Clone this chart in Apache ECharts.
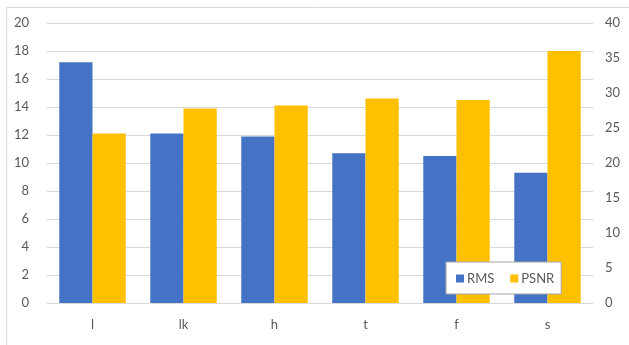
<!DOCTYPE html>
<html>
<head>
<meta charset="utf-8">
<script src="https://cdn.jsdelivr.net/npm/echarts@6/dist/echarts.min.js"></script>
<style>
  html, body { margin: 0; padding: 0; background: #fff; }
  #chart { width: 629px; height: 345px; }
</style>
</head>
<body>
<div id="chart"></div>
<script>
// Categories and the two measured series
const categories = ['l', 'lk', 'h', 't', 'f', 's'];
const rmsValues = [17.2, 12.1, 11.9, 10.7, 10.5, 9.3];
const psnrValues = [24.2, 27.8, 28.2, 29.2, 29.0, 36.0];
const seriesNames = ['RMS', 'PSNR'];

const textColor = '#595959';
const gridColor = '#d9d9d9';
const fontFamily = 'Lato, "Open Sans", sans-serif';

const chart = echarts.init(document.getElementById('chart'), null, { renderer: 'canvas' });

chart.setOption({
  animation: false,
  backgroundColor: '#ffffff',
  textStyle: { fontFamily: fontFamily },
  graphic: [{
    type: 'rect',
    shape: { x: 6.5, y: 7.5, width: 700, height: 400 },
    style: { fill: 'none', stroke: '#d9d9d9', lineWidth: 1 },
    silent: true,
    z: -1
  }],
  grid: { left: 47, right: 36, top: 23, bottom: 42, containLabel: false },
  legend: {
    data: seriesNames,
    left: 446,
    top: 262,
    orient: 'horizontal',
    padding: [10, 7, 9, 10],
    itemWidth: 8,
    itemHeight: 8,
    itemGap: 16,
    icon: 'rect',
    backgroundColor: '#ffffff',
    borderColor: '#a6a6a6',
    borderWidth: 1,
    textStyle: { color: textColor, fontSize: 13, fontFamily: fontFamily, padding: [0, 0, 0, -2] }
  },
  xAxis: {
    type: 'category',
    data: categories,
    axisLine: { show: true, lineStyle: { color: gridColor, width: 1 } },
    axisTick: { show: false },
    axisLabel: { color: textColor, fontSize: 13, margin: 15 }
  },
  yAxis: [{
    type: 'value',
    min: 0,
    max: 20,
    interval: 2,
    position: 'left',
    axisLine: { show: false },
    axisTick: { show: false },
    axisLabel: { color: textColor, fontSize: 13, margin: 18 },
    splitLine: { show: true, lineStyle: { color: gridColor, width: 1 } }
  }, {
    type: 'value',
    min: 0,
    max: 40,
    interval: 5,
    position: 'right',
    axisLine: { show: false },
    axisTick: { show: false },
    axisLabel: { color: textColor, fontSize: 13, margin: 12 },
    splitLine: { show: false }
  }],
  series: [{
    name: seriesNames[0],
    type: 'bar',
    yAxisIndex: 0,
    data: rmsValues,
    barGap: '0%',
    barCategoryGap: '27%',
    itemStyle: { color: '#4472C4' }
  }, {
    name: seriesNames[1],
    type: 'bar',
    yAxisIndex: 1,
    data: psnrValues,
    barGap: '0%',
    barCategoryGap: '27%',
    itemStyle: { color: '#FFC000' }
  }]
});
</script>
</body>
</html>
